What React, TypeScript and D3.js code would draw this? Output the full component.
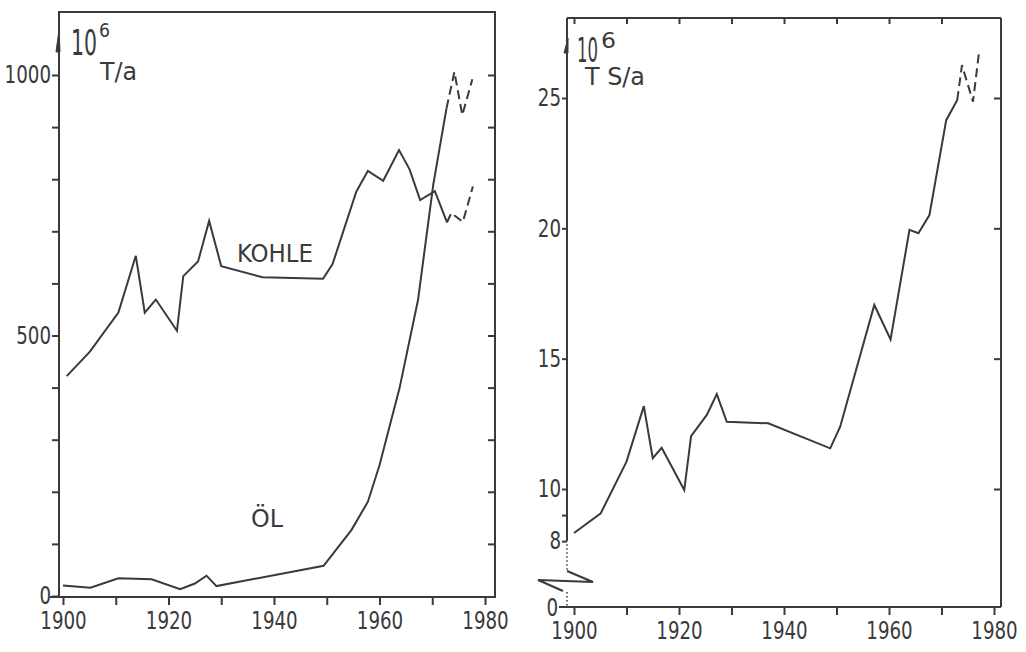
import React, { useEffect, useRef } from 'react';
import * as d3 from 'd3';

// left panel: Kohle / Öl, 10^6 T/a
const kohleYears = [1900.7, 1905.1, 1910.5, 1913.8, 1915.5, 1917.6, 1921.6, 1922.8, 1925.6, 1927.7, 1930, 1937.8, 1949.3, 1951.1, 1955.6, 1957.8, 1960.7, 1963.7, 1965.7, 1967.7, 1970.5, 1972.8];
const kohleValues = [422, 469, 544, 653, 544, 569, 509, 614, 642, 720, 633, 612, 609, 637, 776, 816, 797, 856, 819, 760, 777, 717];
const kohleEstYears = [1972.8, 1973.6, 1975.8, 1977.7];
const kohleEstValues = [717, 735, 718, 786];

const oelYears = [1900, 1905.2, 1910.5, 1916.8, 1922.2, 1925, 1927.2, 1929.1, 1949.4, 1954.7, 1957.8, 1960, 1963.8, 1967.3, 1970.2, 1972.7];
const oelValues = [20, 16, 34, 32, 13, 24, 39, 19, 58, 127, 181, 251, 399, 568, 790, 936];
const oelEstYears = [1972.7, 1974.2, 1975.7, 1977.6];
const oelEstValues = [936, 1006, 923, 992];

// right panel: 10^6 T S/a
const tsYears = [1900, 1905.1, 1910, 1913.3, 1915, 1916.7, 1921, 1922.3, 1925.3, 1927.2, 1929.1, 1937, 1948.8, 1950.7, 1957.2, 1960.3, 1963.9, 1965.6, 1967.7, 1970.9, 1973];
const tsValues = [8.31, 9.07, 11.05, 13.18, 11.18, 11.58, 9.96, 12.03, 12.84, 13.64, 12.58, 12.52, 11.56, 12.39, 17.06, 15.74, 19.94, 19.81, 20.51, 24.15, 24.92];
const tsEstYears = [1973, 1973.9, 1976, 1977.2];
const tsEstValues = [24.92, 26.26, 24.86, 26.84];

const yearTicks = [1900, 1910, 1920, 1930, 1940, 1950, 1960, 1970, 1980];
const yearLabels = [1900, 1920, 1940, 1960, 1980];
const leftTicks = d3.range(0, 1001, 100);
const leftLabels = [0, 500, 1000];
const rightTicks = [8, 9, 10, 15, 20, 25];
const rightLabels = [8, 10, 15, 20, 25];

const FONT = "'DejaVu Sans Condensed', 'DejaVu Sans', sans-serif";
const INK = '#3a3a3a';
const DIGIT = 11.6; // width of one digit in the narrow lettering

const zip = (xs: number[], ys: number[]) => xs.map((x, i) => [x, ys[i]] as [number, number]);

function Label(props: any) {
    const { w, size, children, ...rest } = props;
    return (
        <text fontFamily={FONT} fill={INK} fontSize={size} textLength={w} lengthAdjust="spacingAndGlyphs" {...rest}>
            {children}
        </text>
    );
}

export default function App() {
    const lx = useRef<SVGGElement>(null);
    const ly = useRef<SVGGElement>(null);
    const lyr = useRef<SVGGElement>(null);
    const rx = useRef<SVGGElement>(null);
    const rxt = useRef<SVGGElement>(null);
    const ry = useRef<SVGGElement>(null);
    const ryr = useRef<SVGGElement>(null);

    // left scales
    const xL = d3.scaleLinear().domain([1900, 1980]).range([63, 485]);
    const yL = d3.scaleLinear().domain([0, 1000]).range([596, 75]);
    const L = { left: 59, top: 12, right: 495, bottom: 597 };

    // right scales (axis broken below 8)
    const xR = d3.scaleLinear().domain([1900, 1980]).range([574, 994]);
    const yR = d3.scaleLinear().domain([10, 25]).range([489, 98]);
    const R = { left: 567, top: 18, right: 1001, bottom: 607 };

    const line = (sx: any, sy: any) => d3.line<[number, number]>().x(d => sx(d[0])).y(d => sy(d[1]));
    const lineL = line(xL, yL);
    const lineR = line(xR, yR);

    useEffect(() => {
        const styleAxis = (sel: any) => {
            sel.select('.domain').remove();
            sel.selectAll('line').attr('stroke', INK).attr('stroke-width', 2);
            sel.selectAll('text').attr('font-family', FONT).attr('font-size', 24).attr('fill', INK)
                .each(function (this: SVGTextElement) {
                    const t = this.textContent || '';
                    if (t) d3.select(this).attr('textLength', t.length * DIGIT).attr('lengthAdjust', 'spacingAndGlyphs');
                });
        };
        const yf = (labels: number[]) => (d: any) => labels.includes(d) ? String(d) : '';

        d3.select(lx.current).call(
            d3.axisBottom(xL).tickValues(yearTicks).tickSize(8).tickSizeOuter(0).tickPadding(7)
                .tickFormat(yf(yearLabels))).call(styleAxis);
        d3.select(ly.current).call(
            d3.axisLeft(yL).tickValues(leftTicks).tickSize(7).tickSizeOuter(0).tickPadding(1)
                .tickFormat(yf(leftLabels))).call(styleAxis);
        d3.select(lyr.current).call(
            d3.axisLeft(yL).tickValues(leftTicks.slice(1)).tickSize(7).tickSizeOuter(0)
                .tickFormat(() => '')).call(styleAxis);

        d3.select(rx.current).call(
            d3.axisBottom(xR).tickValues(yearTicks).tickSize(8).tickSizeOuter(0).tickPadding(7)
                .tickFormat(yf(yearLabels))).call(styleAxis);
        d3.select(rxt.current).call(
            d3.axisBottom(xR).tickValues(yearTicks.slice(0, 8)).tickSize(6).tickSizeOuter(0)
                .tickFormat(() => '')).call(styleAxis);
        d3.select(ry.current).call(
            d3.axisLeft(yR).tickValues(rightTicks).tickSize(5).tickSizeOuter(0).tickPadding(1)
                .tickFormat(yf(rightLabels))).call(styleAxis);
        d3.select(ryr.current).call(
            d3.axisLeft(yR).tickValues([10, 15, 20, 25]).tickSize(7).tickSizeOuter(0)
                .tickFormat(() => '')).call(styleAxis);
    }, []);

    const solid = { fill: 'none', stroke: INK, strokeWidth: 2, strokeLinejoin: 'miter' as const };
    const dashed = { ...solid, strokeDasharray: '9,5' };
    const y8 = yR(8);

    return (
        <svg width={1026} height={652} style={{ position: 'absolute', left: 0, top: 0, background: '#fff' }}>
            {/* left panel */}
            <g>
                <rect x={L.left} y={L.top} width={L.right - L.left} height={L.bottom - L.top}
                    fill="none" stroke={INK} strokeWidth={2} />
                <g ref={lx} transform={`translate(0,${L.bottom})`} />
                <g ref={ly} transform={`translate(${L.left},0)`} />
                <g ref={lyr} transform={`translate(${L.right},0)`} />
                <line x1={L.left - 9} x2={L.left} y1={L.bottom} y2={L.bottom} stroke={INK} strokeWidth={2} />
                <path d={`M${L.left - 3},52 L${L.left},30 L${L.left + 1},52 Z`} fill={INK} stroke={INK} strokeWidth={1} />
                <Label x={71} y={55} size={36} w={26}>10</Label>
                <Label x={99} y={37} size={20} w={11}>6</Label>
                <Label x={100} y={80} size={24} w={37}>T/a</Label>

                <path d={lineL(zip(kohleYears, kohleValues)) || ''} {...solid} />
                <path d={lineL(zip(kohleEstYears, kohleEstValues)) || ''} {...dashed} />
                <path d={lineL(zip(oelYears, oelValues)) || ''} {...solid} />
                <path d={lineL(zip(oelEstYears, oelEstValues)) || ''} {...dashed} />

                <Label x={237} y={262} size={24} w={76}>KOHLE</Label>
                <Label x={251} y={527} size={24} w={32}>ÖL</Label>
            </g>

            {/* right panel */}
            <g>
                <line x1={R.left} x2={R.right} y1={R.top} y2={R.top} stroke={INK} strokeWidth={2} />
                <line x1={R.right} x2={R.right} y1={R.top} y2={R.bottom} stroke={INK} strokeWidth={2} />
                <line x1={R.left - 8} x2={R.right} y1={R.bottom} y2={R.bottom} stroke={INK} strokeWidth={2} />
                <line x1={R.left} x2={R.left} y1={R.top} y2={y8} stroke={INK} strokeWidth={2} />
                <line x1={R.left} x2={R.left} y1={y8 + 3} y2={571} stroke={INK} strokeWidth={1.5} strokeDasharray="1.5,2.5" />
                <line x1={R.left} x2={R.left} y1={592} y2={R.bottom} stroke={INK} strokeWidth={1.5} strokeDasharray="1.5,2.5" />
                <polyline points={`${R.left},571 ${R.left + 26},582 ${R.left - 29},580 ${R.left - 4},591`}
                    fill="none" stroke={INK} strokeWidth={2} />
                <Label x={R.left - 9} y={R.bottom} size={24} w={DIGIT} textAnchor="end" dy="0.36em">0</Label>
                <g ref={rx} transform={`translate(0,${R.bottom})`} />
                <g ref={rxt} transform={`translate(0,${R.top})`} />
                <g ref={ry} transform={`translate(${R.left},0)`} />
                <g ref={ryr} transform={`translate(${R.right},0)`} />
                <path d={`M${R.left - 3},53 L${R.left + 1},38 L${R.left + 1},53 Z`} fill={INK} stroke={INK} strokeWidth={1} />
                <Label x={577} y={62} size={33} w={21}>10</Label>
                <Label x={601} y={48} size={21} w={15}>6</Label>
                <Label x={585} y={85} size={25} w={60}>T S/a</Label>

                <path d={lineR(zip(tsYears, tsValues)) || ''} {...solid} />
                <path d={lineR(zip(tsEstYears, tsEstValues)) || ''} {...dashed} />
            </g>
        </svg>
    );
}
